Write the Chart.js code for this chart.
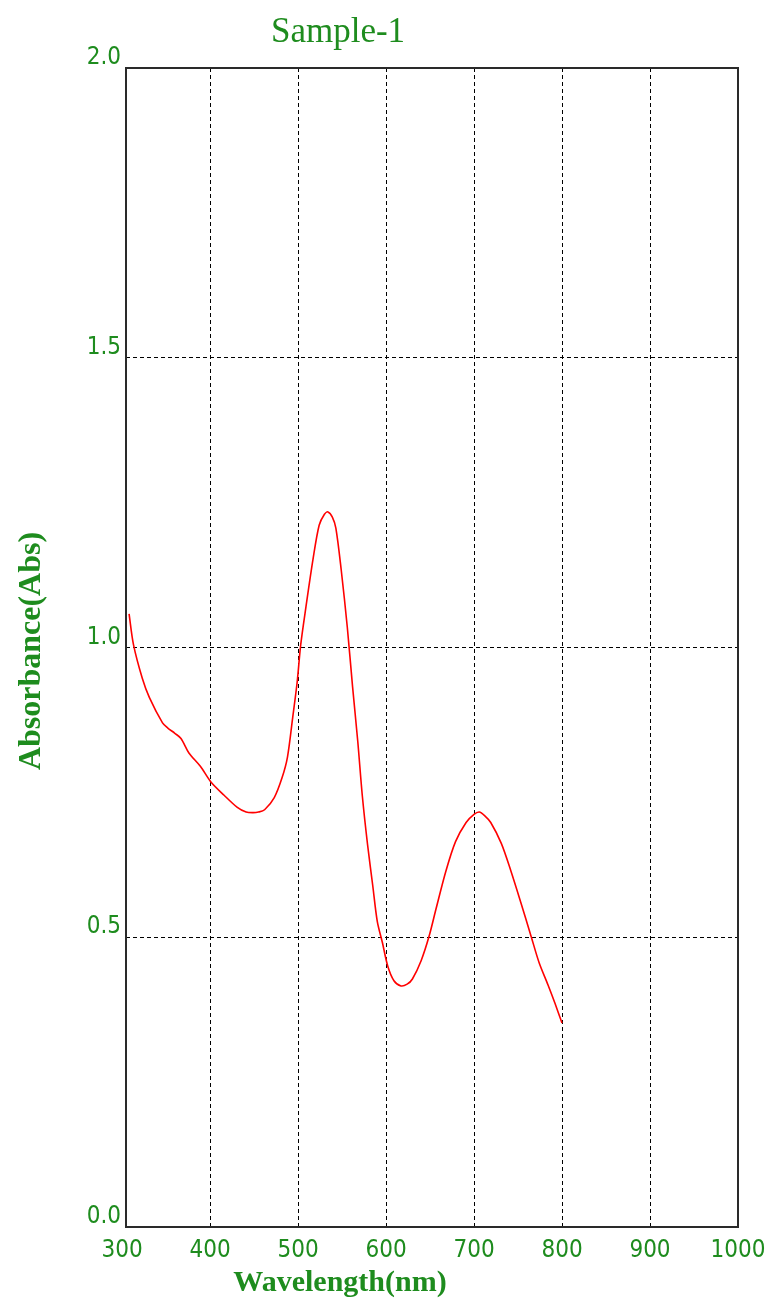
<!DOCTYPE html>
<html>
<head>
<meta charset="utf-8">
<script src="https://cdn.jsdelivr.net/npm/chart.js@4.4.1/dist/chart.umd.min.js"></script>
<style>
  html, body { margin: 0; padding: 0; background: #ffffff; }
  #wrap { width: 768px; height: 1299px; position: relative; }
</style>
</head>
<body>
<div id="wrap"><canvas id="spectrum" width="768" height="1299"></canvas></div>
<script>
// UV-Vis absorption spectrum of Sample-1
const wavelengths = [308, 313, 323, 331, 346, 352, 360, 367, 376, 389, 401, 416, 431, 441, 449, 455, 462, 473, 482, 488,
  494, 499, 503, 509, 517, 524, 530, 534, 539, 543, 549, 556, 562, 568, 573, 579, 585, 590, 596, 602,
  609, 617, 624, 630, 640, 649, 657, 668, 679, 691, 700, 706, 712, 719, 731, 742, 753, 765, 774, 784, 792, 800];
const absorbance = [1.058, 1.005, 0.947, 0.914, 0.870, 0.861, 0.852, 0.843, 0.818, 0.795, 0.768, 0.745, 0.724, 0.716, 0.715, 0.716, 0.720, 0.741, 0.776, 0.811,
  0.880, 0.940, 1.004, 1.070, 1.152, 1.211, 1.230, 1.234, 1.225, 1.206, 1.135, 1.035, 0.932, 0.836, 0.745, 0.660, 0.588, 0.528, 0.490, 0.450,
  0.425, 0.416, 0.419, 0.428, 0.460, 0.502, 0.550, 0.614, 0.665, 0.698, 0.712, 0.716, 0.710, 0.698, 0.662, 0.614, 0.561, 0.501, 0.456, 0.418, 0.386, 0.352];
const xTicks = [300, 400, 500, 600, 700, 800, 900, 1000];
const yTicks = [0.0, 0.5, 1.0, 1.5, 2.0];

const chartTitle = 'Sample-1';
const xTitle = 'Wavelength(nm)';
const yTitle = 'Absorbance(Abs)';

const GREEN = '#1e8c1e';
const tickFont = { family: "'DejaVu Sans Condensed', 'Liberation Sans Narrow', sans-serif", size: 24 };

// the left frame edge sits a little inside the 300 nm tick
const X_MIN = 304.5;
const X_MAX = 1000;

// frame around the plot plus titles in serif type
const framePlugin = {
  id: 'frameAndTitles',
  afterDatasetsDraw(chart) {
    const { ctx, chartArea: a } = chart;
    ctx.save();
    ctx.strokeStyle = '#2a2a2a';
    ctx.lineWidth = 2;
    ctx.strokeRect(a.left, a.top, a.right - a.left, a.bottom - a.top);
    ctx.restore();
  },
  afterDraw(chart) {
    const { ctx } = chart;
    ctx.save();
    ctx.fillStyle = GREEN;
    ctx.textAlign = 'center';
    ctx.textBaseline = 'alphabetic';
    ctx.font = "35px 'Liberation Serif', 'DejaVu Serif', serif";
    ctx.fillText(chartTitle, 338, 42);
    ctx.font = "bold 30px 'Liberation Serif', 'DejaVu Serif', serif";
    ctx.fillText(xTitle, 340, 1291);
    ctx.font = "bold 32px 'Liberation Serif', 'DejaVu Serif', serif";
    ctx.translate(40, 651);
    ctx.rotate(-Math.PI / 2);
    ctx.fillText(yTitle, 0, 0);
    ctx.restore();
  }
};

new Chart(document.getElementById('spectrum'), {
  type: 'line',
  data: {
    datasets: [{
      data: wavelengths.map((w, i) => ({ x: w, y: absorbance[i] })),
      borderColor: '#ff0000',
      borderWidth: 1.6,
      pointRadius: 0,
      fill: false,
      tension: 0.3
    }]
  },
  options: {
    responsive: false,
    animation: false,
    layout: { padding: { left: 0, top: 68, right: 30, bottom: 0 } },
    plugins: { legend: { display: false }, tooltip: { enabled: false }, title: { display: false } },
    scales: {
      x: {
        type: 'linear',
        min: X_MIN, max: X_MAX,
        afterBuildTicks(scale) { scale.ticks = xTicks.map(v => ({ value: v })); },
        afterFit(scale) {
          scale.height = 72;
          // tick labels may hang past the plot edges without shrinking it
          scale.paddingLeft = 0;
          scale.paddingRight = 0;
        },
        grid: {
          color: ctx => (ctx.tick && ctx.tick.value < X_MIN) ? 'rgba(0,0,0,0)' : '#000000',
          lineWidth: 1,
          drawTicks: false
        },
        border: { display: false, dash: [4, 3] },
        ticks: { color: GREEN, font: tickFont, padding: 9, maxRotation: 0, callback: v => String(v) }
      },
      y: {
        type: 'linear',
        min: 0, max: 2,
        afterBuildTicks(scale) { scale.ticks = yTicks.map(v => ({ value: v })); },
        afterFit(scale) {
          scale.width = 126;
          scale.paddingTop = 0;
          scale.paddingBottom = 0;
        },
        grid: { color: '#000000', lineWidth: 1, drawTicks: false },
        border: { display: false, dash: [4, 3] },
        ticks: { color: GREEN, font: tickFont, padding: 5, labelOffset: -10, callback: v => Number(v).toFixed(1) }
      }
    }
  },
  plugins: [framePlugin]
});
</script>
</body>
</html>
